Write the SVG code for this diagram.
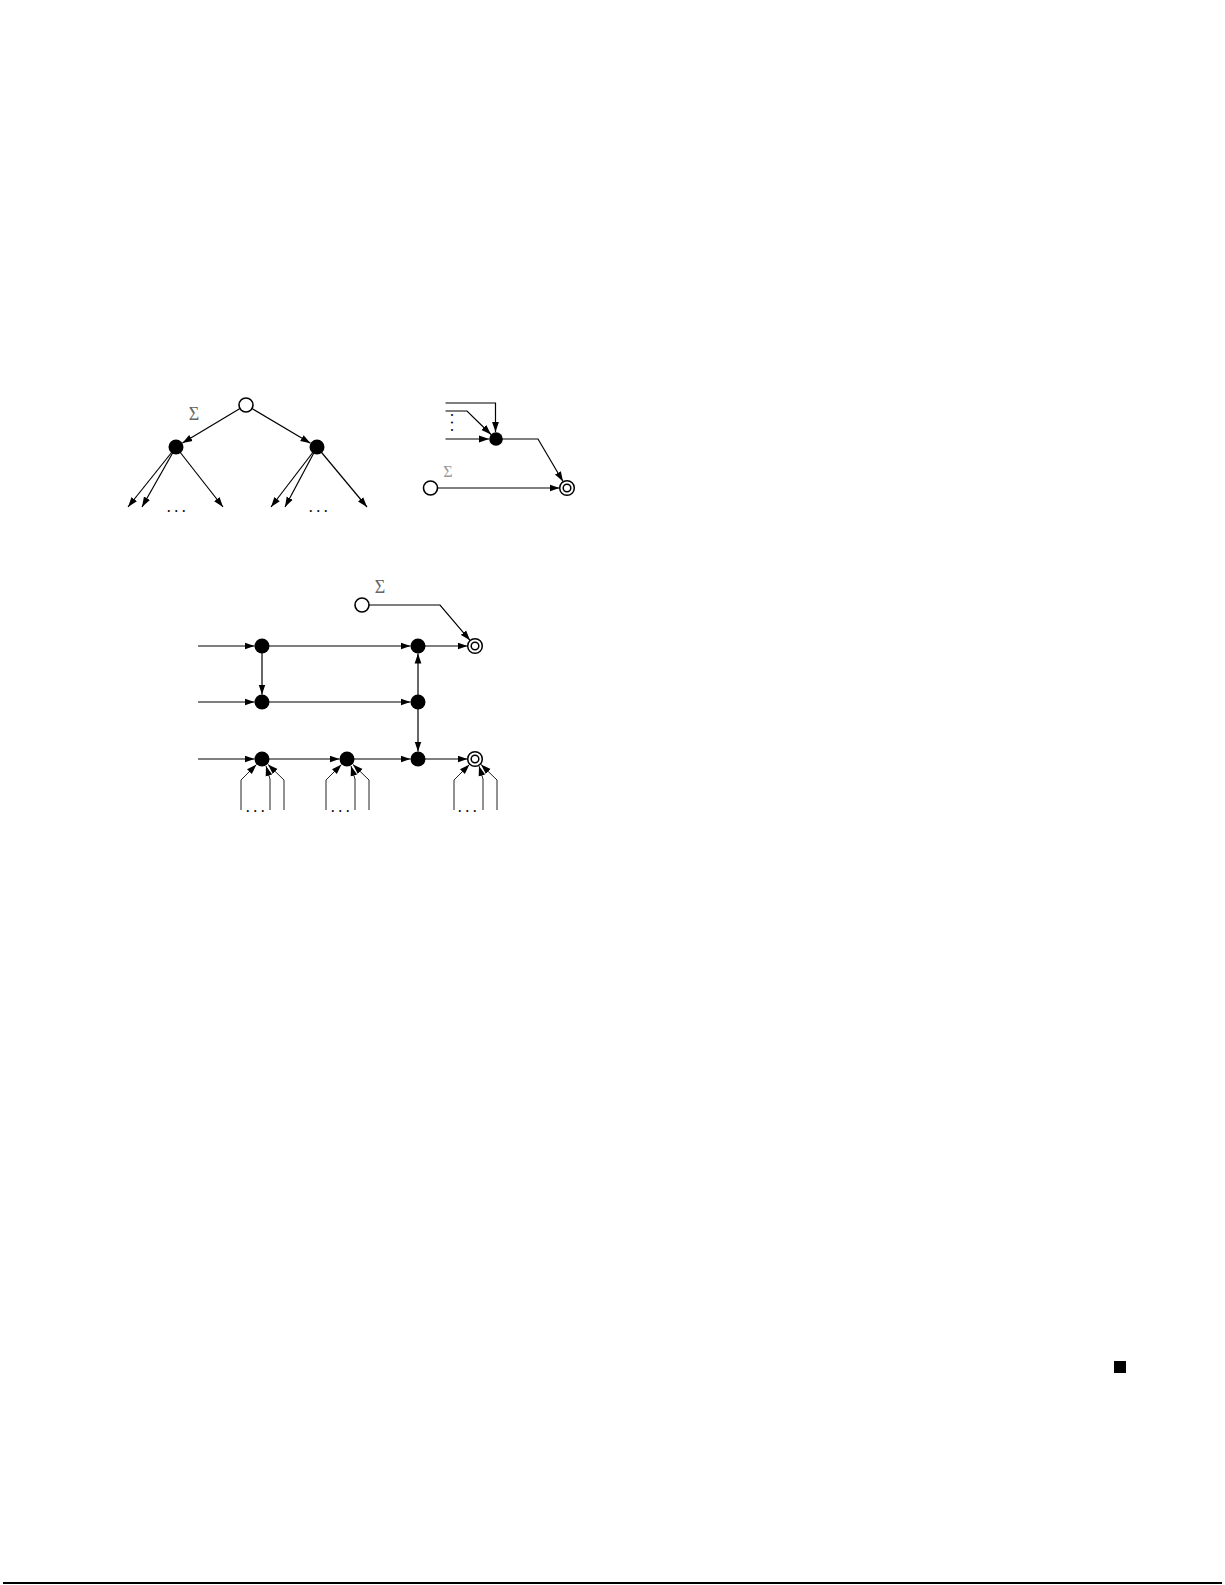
<svg xmlns="http://www.w3.org/2000/svg" width="1225" height="1585" viewBox="0 0 1225 1585">
<style>
.e{fill:none;stroke:#000;stroke-width:1.2;marker-end:url(#ah)}
.in{fill:none;stroke:#222;stroke-width:1;marker-end:url(#ah)}
.bl{fill:#000}
.op{fill:#fff;stroke:#000;stroke-width:1.6}
.dc{fill:#fff;stroke:#000;stroke-width:1.5}
.sg{font-family:"Liberation Serif",serif;fill:#666;text-anchor:middle}
.dt{font-family:"Liberation Serif",serif;font-size:16px;fill:#000;letter-spacing:3.5px;text-anchor:middle}
</style>
<defs>
<marker id="ah" markerUnits="userSpaceOnUse" markerWidth="10" markerHeight="8" refX="10" refY="4" orient="auto"><path d="M0,0.6 L10,4 L0,7.4 z" fill="#000"/></marker>
</defs>
<rect width="1225" height="1585" fill="#fff"/>

<g id="connectors">
<path class="e" d="M240,408.6 L182.4,443.1"/>
<path class="e" d="M252,408.6 L310.5,443.2"/>
<path class="e" d="M176,447 L128,507"/>
<path class="e" d="M176,447 L142,507"/>
<path class="e" d="M176,447 L223,507"/>
<path class="e" d="M317,447 L271,507"/>
<path class="e" d="M317,447 L285,507"/>
<path class="e" d="M317,447 L367,507"/>
<path class="e" d="M445.5,403 H495.5 V432"/>
<path class="e" d="M445.5,411 H467 L491,434.5"/>
<path class="e" d="M445.5,439 H489"/>
<path class="e" d="M496,439 H538 L563,481.5"/>
<path class="e" d="M437.5,488 H559.5"/>
<path class="e" d="M369,605 H440 L470,640.3"/>
<path class="e" d="M198,646 H254.5"/>
<path class="e" d="M198,702 H254.5"/>
<path class="e" d="M198,759 H254.5"/>
<path class="e" d="M262,646 H410.5"/>
<path class="e" d="M418,646 H467.5"/>
<path class="e" d="M262,702 H410.5"/>
<path class="e" d="M262,759 H339.5"/>
<path class="e" d="M347,759 H410.5"/>
<path class="e" d="M418,759 H467.5"/>
<path class="e" d="M262,646 V694.5"/>
<path class="e" d="M418,702 V653.5"/>
<path class="e" d="M418,702 V751.5"/>
<path class="in" d="M241,810 V780 L256.5,764.5"/>
<path class="in" d="M270,810 V779 L266,766"/>
<path class="in" d="M284,810 V780 L268,764.5"/>
<path class="in" d="M326,810 V780 L341.5,764.5"/>
<path class="in" d="M355,810 V779 L351,766"/>
<path class="in" d="M369,810 V780 L353,764.5"/>
<path class="in" d="M454,810 V780 L469.5,764.5"/>
<path class="in" d="M483,810 V779 L479,766"/>
<path class="in" d="M497,810 V780 L481,764.5"/>
</g>

<g id="tree-root"><circle class="op" cx="246" cy="405" r="7"/></g>
<g id="tree-left"><circle class="bl" cx="176" cy="447" r="7.5"/></g>
<g id="tree-right"><circle class="bl" cx="317" cy="447" r="7.5"/></g>
<text class="sg" x="194" y="420" font-size="18">Σ</text>
<text class="dt" x="178" y="512">...</text>
<text class="dt" x="320" y="512">...</text>

<g id="rp-node"><circle class="bl" cx="496" cy="439" r="6.8"/></g>
<g id="rp-open"><circle class="op" cx="430.5" cy="488" r="7"/></g>
<g id="rp-final"><circle class="dc" cx="567" cy="488" r="7.3"/><circle class="dc" cx="567" cy="488" r="3.8"/></g>
<text class="dt" transform="translate(451,413) rotate(90)" style="text-anchor:start;letter-spacing:3.5px">...</text>
<text class="sg" x="448" y="477" font-size="16" style="fill:#999">Σ</text>

<g id="bp-open"><circle class="op" cx="362" cy="605" r="7"/></g>
<text class="sg" x="380" y="593" font-size="18">Σ</text>
<g id="n11"><circle class="bl" cx="262" cy="646" r="7.5"/></g>
<g id="n13"><circle class="bl" cx="418" cy="646" r="7.5"/></g>
<g id="f1"><circle class="dc" cx="475" cy="646" r="7.3"/><circle class="dc" cx="475" cy="646" r="3.8"/></g>
<g id="n21"><circle class="bl" cx="262" cy="702" r="7.5"/></g>
<g id="n23"><circle class="bl" cx="418" cy="702" r="7.5"/></g>
<g id="n31"><circle class="bl" cx="262" cy="759" r="7.5"/></g>
<g id="n32"><circle class="bl" cx="347" cy="759" r="7.5"/></g>
<g id="n33"><circle class="bl" cx="418" cy="759" r="7.5"/></g>
<g id="f2"><circle class="dc" cx="475" cy="759" r="7.3"/><circle class="dc" cx="475" cy="759" r="3.8"/></g>
<text class="dt" x="257" y="812">...</text>
<text class="dt" x="342" y="812">...</text>
<text class="dt" x="469" y="812">...</text>

<rect x="1114" y="1361" width="12" height="12" fill="#000"/>
<line x1="3" y1="1583" x2="1222" y2="1583" stroke="#000" stroke-width="2"/>
</svg>
